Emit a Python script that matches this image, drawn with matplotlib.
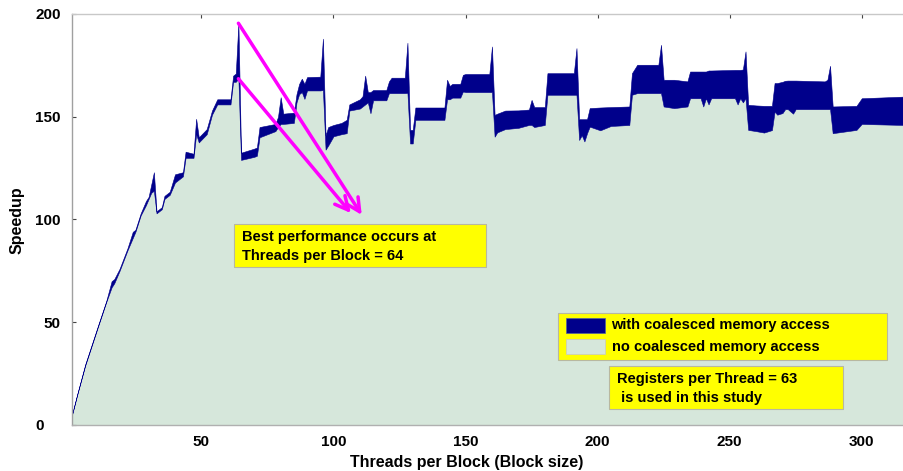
import matplotlib.pyplot as plt
from matplotlib.patches import Rectangle
from matplotlib import transforms

# thread counts (block size) and speedups
threads = [1, 3, 6, 11, 14, 16, 17, 19, 22, 24, 25, 27, 29, 30, 31, 32,
           33, 35, 36, 38, 40, 43, 44, 47, 48, 49, 52, 54, 56, 61, 62, 63, 64,
           65, 70, 71, 72, 78, 79, 80, 81, 85, 86, 87, 88, 89, 90, 95, 96,
           97, 98, 100, 103, 105, 106, 110, 111, 112, 113, 114, 115, 120, 121, 122, 127, 128,
           129, 130, 131, 142, 143, 144, 145, 148, 149, 150, 159, 160,
           161, 162, 165, 170, 174, 175, 176, 180, 181, 191, 192,
           193, 194, 195, 196, 197, 201, 205, 212, 213, 215, 223, 224,
           225, 229, 234, 235, 239, 240, 241, 242, 243, 252, 253, 254, 255, 256,
           257, 260, 263, 266, 267, 268, 270, 271, 272, 274, 275, 286, 287, 288,
           289, 298, 300, 316]

speedup_plain = [5, 15, 29, 48.5, 60, 67, 69, 75, 85, 91, 94, 102, 107, 110, 113, 114,
                 103, 105, 110, 112, 118, 121, 130, 130, 141.5, 137.5, 141.5, 151, 156, 156, 167, 167, 168.5,
                 129, 130.5, 131, 140, 143, 145, 146.5, 146.5, 147, 157, 161, 162, 158.7, 162.8, 162.8, 163,
                 134, 136, 140.5, 141.5, 142, 153, 154, 155, 156, 157, 151.7, 158, 158, 161.5, 161.5, 161.5, 161.6,
                 137, 137, 148.5, 148.5, 158.5, 158.5, 159.3, 159.3, 162.3, 162, 162, 162,
                 140.3, 142.4, 144, 144.6, 146, 146, 145, 146, 160.7, 160.7, 160.7,
                 138.7, 141, 138, 142, 145.2, 143.4, 145.5, 146, 160.7, 161.5, 161.5, 161.5,
                 155, 154.2, 155, 159, 159, 155, 159, 156, 159, 159, 156, 159, 157, 159,
                 143.6, 143, 142.3, 143.5, 152.5, 151, 151.8, 153.7, 153.7, 151.5, 153.7, 153.7, 153.7, 153.7,
                 142, 143.6, 146.5, 146]

speedup_coalesced = [5, 15, 29.5, 49, 60.5, 70, 71, 76, 86, 94, 95, 103, 109, 111, 117, 123,
                     104, 106, 111.5, 113.5, 122, 123, 133, 132, 149, 140, 144, 153, 158.5, 158.5, 170, 171, 195.5,
                     132.5, 134.5, 135, 145, 146.5, 150, 159.5, 151.5, 152, 161, 166, 168.5, 166, 169.3, 169.5, 188,
                     141, 145, 146, 147, 148.5, 156, 158.5, 160, 170, 162, 162, 163, 163, 167.2, 169, 169, 186,
                     143.6, 143.6, 154.5, 154.5, 168, 165, 166, 166, 170.4, 170.8, 170.8, 184.2,
                     150.9, 151.5, 153, 153.1, 153.5, 158.2, 154.7, 154.7, 171.2, 171.2, 183.4,
                     148.8, 148.8, 148.8, 148.8, 154.2, 154.5, 154.7, 155, 171.2, 175.3, 175.3, 185,
                     168, 168, 167.2, 172, 172, 172, 172, 172.5, 172.5, 172.8, 172.8, 172.8, 173, 181.8,
                     155.8, 155.5, 155.3, 155.3, 166.4, 166.4, 167, 167.5, 167.6, 167.6, 167.6, 167.2, 168, 174.8,
                     155, 155.3, 159, 159.8]

y_ticks = [0, 50, 100, 150, 200]
x_ticks = [50, 100, 150, 200, 250, 300]

navy = '#00008B'
pale = '#D6E7DB'
magenta = '#FF00FF'

plt.rcParams['font.family'] = ['Liberation Sans', 'DejaVu Sans']
plt.rcParams['font.weight'] = 'bold'

W, H = 904, 471
fig = plt.figure(figsize=(W / 100, H / 100), dpi=100)
ax = fig.add_axes([72 / W, 1 - 425 / H, (W - 72) / W, (425 - 14) / H])

ax.fill_between(threads, 0, speedup_plain, color=pale, lw=0)
ax.fill_between(threads, speedup_plain, speedup_coalesced, color=navy, lw=0.4, edgecolor=navy)

ax.set_xlim(1, 316)
ax.set_ylim(0, 200)
ax.set_yticks(y_ticks)
ax.set_xticks(x_ticks)
ax.tick_params(axis='x', direction='in', length=3, width=0.8, color='#444444',
               top=True, bottom=False, labelsize=11, pad=7)
ax.tick_params(axis='y', direction='in', length=3, width=0.8, color='#444444',
               labelsize=11, pad=8)
for lbl in ax.get_xticklabels() + ax.get_yticklabels():
    lbl.set_fontweight('bold')
# the "0" label sits further left in the original
zero_lbl = ax.get_yticklabels()[0]
zero_lbl.set_transform(zero_lbl.get_transform() +
                       transforms.ScaledTranslation(-0.17, 0, fig.dpi_scale_trans))

ax.spines['right'].set_visible(False)
ax.spines['top'].set_color('#C8C8C8')
ax.spines['left'].set_color('#A0A0A0')
ax.spines['bottom'].set_color('#B0B0B0')
for s in ['top', 'left', 'bottom']:
    ax.spines[s].set_linewidth(1.0)

fig.text(467 / W, 1 - 462 / H, 'Threads per Block (Block size)', ha='center', va='center',
         fontsize=11.5, fontweight='bold')
fig.text(17 / W, 1 - 220 / H, 'Speedup', ha='center', va='center', rotation=90,
         fontsize=11.5, fontweight='bold')

# arrows from the best point at 64 threads
i64 = threads.index(64)
ax.annotate('', xy=(110.7, 102.2), xytext=(64, speedup_coalesced[i64]),
            arrowprops=dict(arrowstyle='->', color=magenta, lw=2.5, mutation_scale=24,
                            shrinkA=0, shrinkB=0))
ax.annotate('', xy=(106.6, 103.1), xytext=(64, speedup_plain[i64]),
            arrowprops=dict(arrowstyle='->', color=magenta, lw=2.5, mutation_scale=24,
                            shrinkA=0, shrinkB=0))


def box(x0, y0, x1, y1):
    fig.patches.append(Rectangle((x0 / W, 1 - y1 / H), (x1 - x0) / W, (y1 - y0) / H,
                                 transform=fig.transFigure, facecolor='#FFFF00',
                                 edgecolor='#B8B8A0', lw=0.8, zorder=5))


# annotation box
box(234, 224, 486, 267)
fig.text(242 / W, 1 - 237 / H, 'Best performance occurs at', va='center', fontsize=10.5,
         fontweight='bold', zorder=6)
fig.text(242 / W, 1 - 256 / H, 'Threads per Block = 64', va='center', fontsize=10.5,
         fontweight='bold', zorder=6)

# legend
box(558, 313, 887, 360)
fig.patches.append(Rectangle((566 / W, 1 - 333 / H), 39 / W, 15 / H, transform=fig.transFigure,
                             facecolor=navy, edgecolor='#5060A0', lw=0.5, zorder=6))
fig.patches.append(Rectangle((566 / W, 1 - 354 / H), 39 / W, 15 / H, transform=fig.transFigure,
                             facecolor=pale, edgecolor='#C8C8C8', lw=0.5, zorder=6))
fig.text(611 / W, 1 - 325 / H, 'with coalesced memory access', va='center', fontsize=10.5,
         fontweight='bold', zorder=6)
fig.text(612 / W, 1 - 346.5 / H, 'no coalesced memory access', va='center', fontsize=10.5,
         fontweight='bold', zorder=6)

# registers note
box(609, 366, 843, 409)
fig.text(617 / W, 1 - 379 / H, 'Registers per Thread = 63', va='center', fontsize=10.5,
         fontweight='bold', zorder=6)
fig.text(617 / W, 1 - 398 / H, ' is used in this study', va='center', fontsize=10.5,
         fontweight='bold', zorder=6)

fig.savefig('out.png', dpi=100)
